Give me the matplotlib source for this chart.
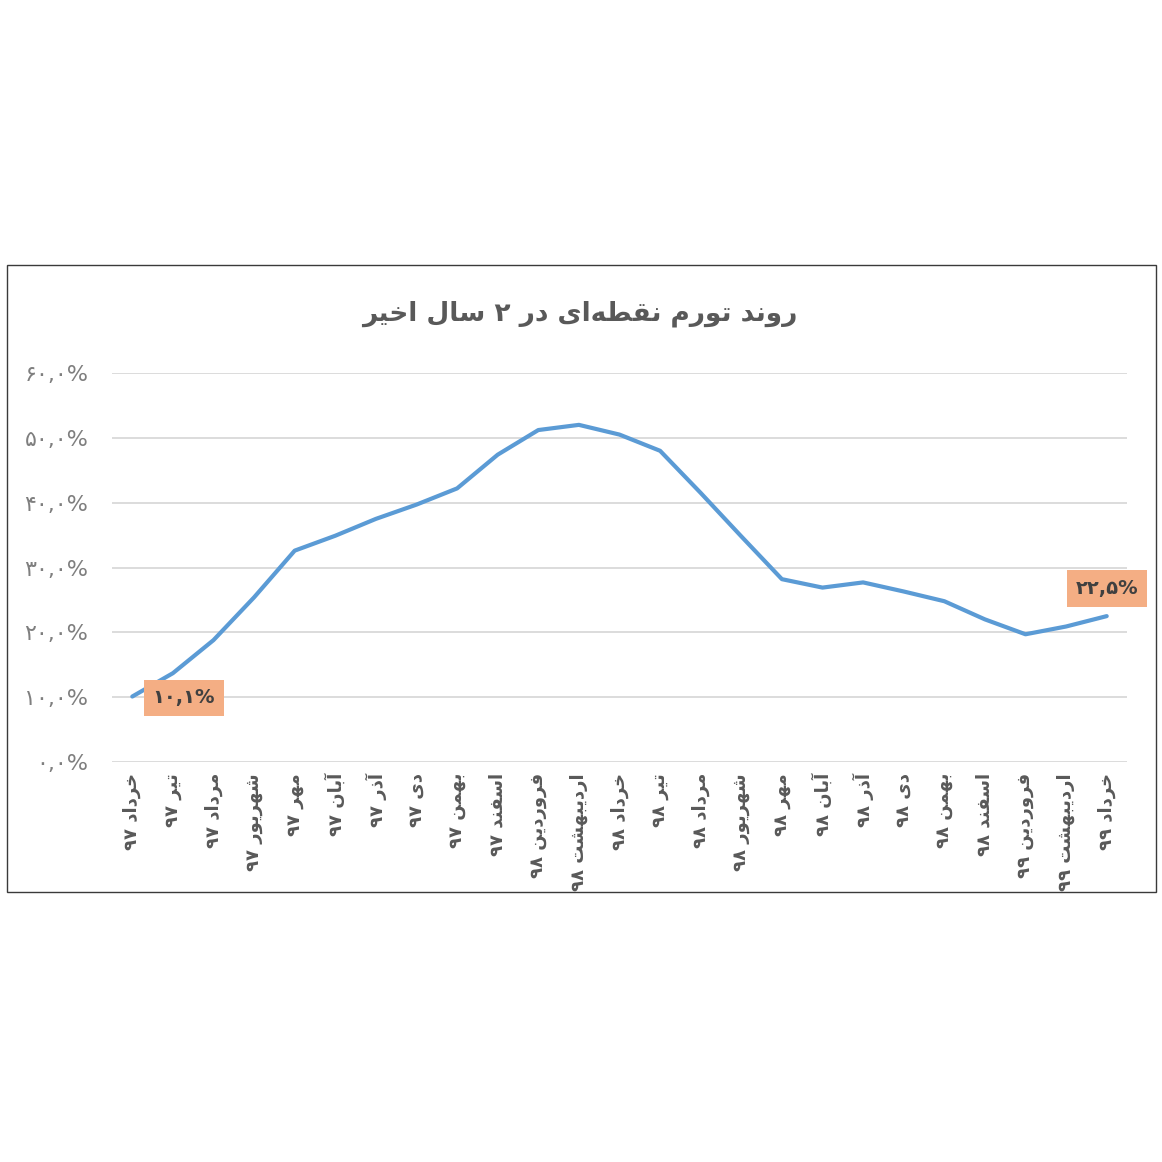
import re
import matplotlib
matplotlib.use("Agg")
import matplotlib.pyplot as plt
from matplotlib.patches import Rectangle

# ---------------- data ----------------
months = ["خرداد", "تیر", "مرداد", "شهریور", "مهر", "آبان", "آذر", "دی", "بهمن", "اسفند",
          "فروردین", "اردیبهشت", "خرداد", "تیر", "مرداد", "شهریور", "مهر", "آبان", "آذر",
          "دی", "بهمن", "اسفند", "فروردین", "اردیبهشت", "خرداد"]
years = ["۹۷"] * 10 + ["۹۸"] * 12 + ["۹۹"] * 3
inflation = [10.1, 13.7, 18.8, 25.4, 32.6, 34.9, 37.5, 39.7, 42.2, 47.4,
             51.2, 52.0, 50.5, 48.0, 41.5, 34.8, 28.2, 26.9, 27.7, 26.3,
             24.8, 22.0, 19.7, 20.9, 22.5]
yticks = [0, 10, 20, 30, 40, 50, 60]
ytick_labels = ["۰,۰%", "۱۰,۰%", "۲۰,۰%", "۳۰,۰%", "۴۰,۰%", "۵۰,۰%", "۶۰,۰%"]
first_label = "۱۰,۱%"
last_label = "۲۲,۵%"
title = "روند تورم نقطه\u200cای در ۲ سال اخیر"

# ---------------- simple Persian shaping ----------------
FORMS = {
    '\u0627': ('\uFE8D', '\uFE8E', None, None),
    '\u0622': ('\uFE81', '\uFE82', None, None),
    '\u0628': ('\uFE8F', '\uFE90', '\uFE91', '\uFE92'),
    '\u062A': ('\uFE95', '\uFE96', '\uFE97', '\uFE98'),
    '\u062E': ('\uFEA5', '\uFEA6', '\uFEA7', '\uFEA8'),
    '\u062F': ('\uFEA9', '\uFEAA', None, None),
    '\u0630': ('\uFEAB', '\uFEAC', None, None),
    '\u0631': ('\uFEAD', '\uFEAE', None, None),
    '\u0632': ('\uFEAF', '\uFEB0', None, None),
    '\u0633': ('\uFEB1', '\uFEB2', '\uFEB3', '\uFEB4'),
    '\u0634': ('\uFEB5', '\uFEB6', '\uFEB7', '\uFEB8'),
    '\u0637': ('\uFEC1', '\uFEC2', '\uFEC3', '\uFEC4'),
    '\u0641': ('\uFED1', '\uFED2', '\uFED3', '\uFED4'),
    '\u0642': ('\uFED5', '\uFED6', '\uFED7', '\uFED8'),
    '\u0644': ('\uFEDD', '\uFEDE', '\uFEDF', '\uFEE0'),
    '\u0645': ('\uFEE1', '\uFEE2', '\uFEE3', '\uFEE4'),
    '\u0646': ('\uFEE5', '\uFEE6', '\uFEE7', '\uFEE8'),
    '\u0647': ('\uFEE9', '\uFEEA', '\uFEEB', '\uFEEC'),
    '\u0648': ('\uFEED', '\uFEEE', None, None),
    '\u06CC': ('\uFEEF', '\uFEF0', '\uFEF3', '\uFEF4'),
}
LAMALEF = {'\u0627': ('\uFEFB', '\uFEFC'), '\u0622': ('\uFEF5', '\uFEF6')}


def shape(s):
    ch = list(s)
    n = len(ch)
    out = []
    i = 0
    while i < n:
        c = ch[i]
        if c not in FORMS:
            out.append(c)
            i += 1
            continue
        prev = ch[i - 1] if i > 0 else None
        jp = prev in FORMS and FORMS[prev][2] is not None
        if c == '\u0644' and i + 1 < n and ch[i + 1] in LAMALEF:
            lig = LAMALEF[ch[i + 1]]
            out.append(lig[1] if jp else lig[0])
            i += 2
            continue
        nxt = ch[i + 1] if i + 1 < n else None
        jn = FORMS[c][2] is not None and nxt in FORMS
        iso, fin, ini, med = FORMS[c]
        if jp and jn:
            out.append(med)
        elif jp:
            out.append(fin)
        elif jn:
            out.append(ini)
        else:
            out.append(iso)
        i += 1
    return ''.join(out).replace('\u200c', '')


def visual(s):
    shaped = shape(s)
    tokens = re.findall(r'[0-9\u06F0-\u06F9,%]+|.', shaped)
    return ''.join(reversed(tokens))


# ---------------- figure ----------------
W = H = 1162
fig = plt.figure(figsize=(W / 100, H / 100), dpi=100)
fig.patch.set_facecolor("white")

# outer chart border
fig.patches.append(Rectangle((7 / W, 1 - 892 / H), (1156 - 7) / W, (892 - 265) / H,
                             transform=fig.transFigure, fill=False,
                             edgecolor="#3a3a3a", linewidth=1.0))

ax = fig.add_axes([112 / W, 1 - 762 / H, (1127 - 112) / W, (762 - 373) / H])
ax.set_facecolor("none")
x = list(range(len(inflation)))
ax.plot(x, inflation, color="#5B9BD5", linewidth=3.0, solid_capstyle="round", zorder=3)

ax.set_xlim(-0.5, len(inflation) - 0.5)
ax.set_ylim(0, 60)
ax.set_yticks(yticks)
ax.set_yticklabels(ytick_labels)
ax.yaxis.grid(True, color="#D9D9D9", linewidth=1.3)
ax.set_axisbelow(True)
for sp in ["top", "left", "right", "bottom"]:
    ax.spines[sp].set_visible(False)
ax.tick_params(axis="both", length=0)
ax.tick_params(axis="y", pad=17, labelsize=16, labelcolor="#7F7F7F")

xlabels = [visual(m + " " + y) for m, y in zip(months, years)]
ax.set_xticks(x)
ax.set_xticklabels(xlabels, rotation=90, fontsize=13, fontweight="bold",
                   color="#595959", ha="center", va="top", family="DejaVu Sans")
ax.tick_params(axis="x", pad=8)

# data labels
bbox = dict(boxstyle="square,pad=0.45", facecolor="#F4AE84", edgecolor="none")
ax.annotate(first_label, xy=(0, inflation[0]), xytext=(37, -1), textcoords="offset points",
            ha="center", va="center", fontsize=14, fontweight="bold", color="#404040",
            bbox=bbox, zorder=4)
ax.annotate(last_label, xy=(len(inflation) - 1, inflation[-1]), xytext=(0, 20),
            textcoords="offset points", ha="center", va="center", fontsize=14,
            fontweight="bold", color="#404040", bbox=bbox, zorder=4)

fig.text(580 / W, 1 - 314 / H, visual(title), ha="center", va="center",
         fontsize=19, fontweight="bold", color="#595959", family="DejaVu Sans")

fig.savefig("out.png", dpi=100, facecolor="white")
